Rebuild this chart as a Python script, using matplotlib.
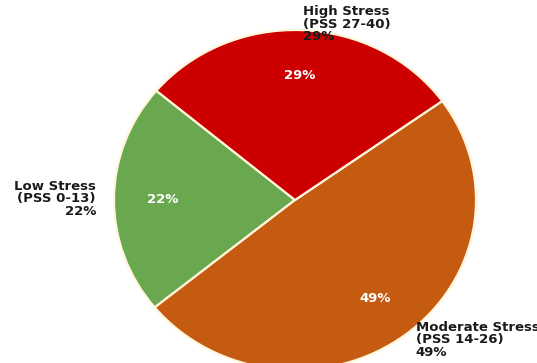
import matplotlib
matplotlib.use("Agg")
from matplotlib import pyplot as plt

labels = ["Low Stress\n(PSS 0-13)", "Moderate Stress\n(PSS 14-26)", "High Stress\n(PSS 27-40)"]
shares = [22, 49, 29]
colors = ["#6aa84f", "#c55a11", "#cc0000"]

# pie centre and radii in pixels (the reference is a bit squashed vertically)
W, H = 537, 363
cx, cy = 295, 200
rx, ry = 181, 170

fig = plt.figure(figsize=(W / 100, H / 100), dpi=100)
ax = fig.add_axes([0, 0, 1, 1])

full_labels = [f"{lab}\n{v}%" for lab, v in zip(labels, shares)]
wedges, texts, autotexts = ax.pie(
    shares, labels=full_labels, colors=colors, startangle=140,
    autopct="%1.0f%%", pctdistance=0.73, labeldistance=1.1,
    wedgeprops=dict(edgecolor="#fff6dc", linewidth=1.6),
    textprops=dict(fontsize=9.5, fontweight="bold", color="#1a1a1a"))

for t in autotexts:
    t.set_color("white")
    t.set_fontsize(9.5)

# labels sit a little closer vertically in the reference
for t in texts:
    x, y = t.get_position()
    t.set_position((x, y * 0.94))
    t.set_linespacing(0.95)

ax.set_aspect("auto")
ax.set_xlim(-cx / rx, (W - cx) / rx)
ax.set_ylim(-(H - cy) / ry, cy / ry)
ax.axis("off")

fig.savefig("out.png", dpi=100)
